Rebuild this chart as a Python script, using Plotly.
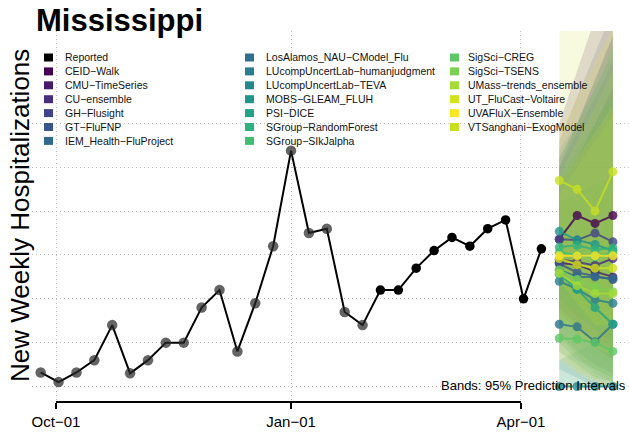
import plotly.graph_objects as go
import pandas as pd

# ---------------- data ----------------
reported_dates = pd.date_range("2022-09-25", periods=29, freq="7D")
reported_values = [16, 5, 16, 30, 70, 15, 30, 50, 50, 90, 110, 40, 95, 160, 269,
                   175, 180, 85, 70, 110, 110, 135, 155, 170, 160, 180, 190, 100, 157]
recent_cutoff = pd.Timestamp("2023-02-01")   # points after this are drawn solid

forecast_dates = pd.date_range("2023-04-16", periods=4, freq="7D")

models = ["CEID-Walk", "CMU-TimeSeries", "CU-ensemble", "GH-Flusight", "GT-FluFNP",
          "IEM_Health-FluProject", "LosAlamos_NAU-CModel_Flu", "LUcompUncertLab-humanjudgment",
          "LUcompUncertLab-TEVA", "MOBS-GLEAM_FLUH", "PSI-DICE", "SGroup-RandomForest",
          "SGroup-SIkJalpha", "SigSci-CREG", "SigSci-TSENS", "UMass-trends_ensemble",
          "UT_FluCast-Voltaire", "UVAFluX-Ensemble", "VTSanghani-ExogModel"]
model_colors = ["#440154", "#481A6C", "#472F7D", "#414487", "#39568C", "#31688E", "#2C728E",
                "#287D8E", "#23898E", "#1F968B", "#20A386", "#2DB27D", "#40BD72", "#5DC863",
                "#7AD151", "#A5DB36", "#D2E21B", "#FDE725", "#C8E020"]

forecast_median = {
    "CEID-Walk": [168, 195, 186, 195],
    "CMU-TimeSeries": [141, 139, 131, 125],
    "CU-ensemble": [145, 142, 138, 146],
    "GH-Flusight": [168, 167, 175, 165],
    "GT-FluFNP": [140, 130, 126, 122],
    "IEM_Health-FluProject": [133, 125, 125, 123],
    "LosAlamos_NAU-CModel_Flu": [71, 68, 51, 71],
    "LUcompUncertLab-humanjudgment": [120, 111, 99, 95],
    "LUcompUncertLab-TEVA": [0, 0, 0, 0],
    "MOBS-GLEAM_FLUH": [177, 167, 162, 155],
    "PSI-DICE": [128, 111, 90, 71],
    "SGroup-RandomForest": [159, 161, 156, 158],
    "SGroup-SIkJalpha": [153, 150, 148, 152],
    "SigSci-CREG": [55, 54, 50, 40],
    "SigSci-TSENS": [133, 122, 113, 108],
    "UMass-trends_ensemble": [129, 115, 106, 106],
    "UT_FluCast-Voltaire": [146, 139, 135, 135],
    "UVAFluX-Ensemble": [149, 149, 149, 149],
    "VTSanghani-ExogModel": [235, 225, 200, 245],
}
forecast_lower = {
    "CEID-Walk": [90, 70, 55, 45],
    "CMU-TimeSeries": [80, 60, 45, 30],
    "CU-ensemble": [85, 65, 50, 40],
    "GH-Flusight": [100, 80, 65, 50],
    "GT-FluFNP": [60, 40, 25, 15],
    "IEM_Health-FluProject": [50, 30, 20, 10],
    "LosAlamos_NAU-CModel_Flu": [20, 10, 0, 0],
    "LUcompUncertLab-humanjudgment": [40, 25, 10, 5],
    "LUcompUncertLab-TEVA": [0, 0, 0, 0],
    "MOBS-GLEAM_FLUH": [110, 85, 65, 50],
    "PSI-DICE": [60, 35, 15, 5],
    "SGroup-RandomForest": [100, 85, 70, 60],
    "SGroup-SIkJalpha": [70, 50, 35, 25],
    "SigSci-CREG": [0, 0, 0, 0],
    "SigSci-TSENS": [55, 35, 20, 10],
    "UMass-trends_ensemble": [40, 20, 10, 5],
    "UT_FluCast-Voltaire": [80, 60, 45, 35],
    "UVAFluX-Ensemble": [30, 15, 5, 0],
    "VTSanghani-ExogModel": [120, 95, 70, 70],
}
forecast_upper = {
    "CEID-Walk": [300, 360, 420, 470],
    "CMU-TimeSeries": [230, 260, 300, 340],
    "CU-ensemble": [260, 300, 350, 400],
    "GH-Flusight": [280, 330, 380, 430],
    "GT-FluFNP": [250, 290, 330, 370],
    "IEM_Health-FluProject": [250, 300, 350, 400],
    "LosAlamos_NAU-CModel_Flu": [140, 160, 160, 200],
    "LUcompUncertLab-humanjudgment": [230, 260, 300, 340],
    "LUcompUncertLab-TEVA": [30, 40, 50, 60],
    "MOBS-GLEAM_FLUH": [270, 300, 340, 380],
    "PSI-DICE": [210, 220, 230, 240],
    "SGroup-RandomForest": [240, 270, 300, 330],
    "SGroup-SIkJalpha": [260, 300, 340, 390],
    "SigSci-CREG": [130, 150, 160, 170],
    "SigSci-TSENS": [220, 250, 280, 310],
    "UMass-trends_ensemble": [240, 280, 320, 360],
    "UT_FluCast-Voltaire": [230, 260, 290, 320],
    "UVAFluX-Ensemble": [290, 330, 370, 410],
    "VTSanghani-ExogModel": [420, 450, 470, 520],
}

tick_dates = ["2022-10-01", "2023-01-01", "2023-04-01"]
tick_labels = ["Oct\u221201", "Jan\u221201", "Apr\u221201"]
grid_values = [0, 50, 100, 150, 200, 250, 300]

title_text = "Mississippi"
y_label = "New Weekly Hospitalizations"
band_note = "Bands: 95% Prediction Intervals"

# ---------------- helpers ----------------
W, H = 629, 433
ML, MR, MT, MB = 32, 0, 31, 31
PW, PH = W - ML - MR, H - MT - MB


def px_x(p):
    return (p - ML) / PW


def px_y(p):
    return (H - MB - p) / PH


def rgba(hexc, a):
    h = hexc.lstrip("#")
    return "rgba(%d,%d,%d,%.3f)" % (int(h[0:2], 16), int(h[2:4], 16), int(h[4:6], 16), a)


FONT = "Liberation Sans, Arial, Helvetica, sans-serif"

fig = go.Figure()

# prediction bands
fd = list(forecast_dates)
for m, c in zip(models, model_colors):
    fig.add_trace(go.Scatter(
        x=fd + fd[::-1],
        y=forecast_upper[m] + forecast_lower[m][::-1],
        fill="toself", fillcolor=rgba(c, 0.15), line=dict(width=0),
        mode="lines", hoverinfo="skip", showlegend=False))

# reported series
fig.add_trace(go.Scatter(x=reported_dates, y=reported_values, mode="lines",
                         line=dict(color="black", width=2), showlegend=False))
old_mask = [d < recent_cutoff for d in reported_dates]
fig.add_trace(go.Scatter(
    x=[d for d, o in zip(reported_dates, old_mask) if o],
    y=[v for v, o in zip(reported_values, old_mask) if o],
    mode="markers", marker=dict(color="rgba(40,40,40,0.72)", size=10.5, line=dict(width=0)),
    showlegend=False))
fig.add_trace(go.Scatter(
    x=[d for d, o in zip(reported_dates, old_mask) if not o],
    y=[v for v, o in zip(reported_values, old_mask) if not o],
    mode="markers", marker=dict(color="black", size=9.5, line=dict(width=0)),
    showlegend=False))

# forecast medians
for m, c in zip(models, model_colors):
    fig.add_trace(go.Scatter(
        x=fd, y=forecast_median[m], mode="lines+markers",
        line=dict(color=c, width=2), marker=dict(color=c, size=9),
        opacity=0.8, showlegend=False))

# x axis line between first and last tick (base-R style)
shapes = [dict(type="line", xref="x", yref="paper", x0=tick_dates[0], x1=tick_dates[-1],
               y0=0, y1=0, line=dict(color="black", width=2), layer="above")]

annotations = []
# legend (three columns)
entries = ["Reported"] + models
colors = ["#000000"] + model_colors
cols = [entries[0:7], entries[7:14], entries[14:]]
col_colors = [colors[0:7], colors[7:14], colors[14:]]
sq_x = [44, 245, 450]
tx_x = [63, 264, 466]
row_y0, row_dy = 57.5, 13.9
for ci, (names, cc) in enumerate(zip(cols, col_colors)):
    for ri, (nm, col) in enumerate(zip(names, cc)):
        yc = row_y0 + ri * row_dy
        shapes.append(dict(type="rect", xref="paper", yref="paper",
                           x0=px_x(sq_x[ci]), x1=px_x(sq_x[ci] + 9),
                           y0=px_y(yc + 4), y1=px_y(yc - 4),
                           fillcolor=col, line=dict(width=0), layer="above"))
        annotations.append(dict(xref="paper", yref="paper", x=px_x(tx_x[ci]), y=px_y(yc),
                                xanchor="left", yanchor="middle", showarrow=False,
                                text=nm.replace("-", "\u2212"),
                                font=dict(family=FONT, size=10.5, color="#111111")))

annotations.append(dict(xref="paper", yref="paper", x=px_x(34), y=px_y(21),
                        xanchor="left", yanchor="middle", showarrow=False,
                        text="<b>%s</b>" % title_text,
                        font=dict(family=FONT, size=31, color="black")))
annotations.append(dict(xref="paper", yref="paper", x=px_x(20), y=px_y(216),
                        xanchor="center", yanchor="middle", showarrow=False,
                        textangle=-90, text=y_label,
                        font=dict(family=FONT, size=26, color="black")))
annotations.append(dict(xref="paper", yref="paper", x=px_x(628), y=px_y(385),
                        xanchor="right", yanchor="middle", showarrow=False,
                        text=band_note, font=dict(family=FONT, size=13, color="black")))

x_left = pd.Timestamp("2022-10-01") - pd.Timedelta(days=9.4)
x_right = pd.Timestamp("2023-04-01") + pd.Timedelta(days=42.3)

fig.update_layout(
    width=W, height=H, margin=dict(l=ML, r=MR, t=MT, b=MB, pad=0),
    plot_bgcolor="white", paper_bgcolor="white", showlegend=False,
    font=dict(family=FONT, color="black"),
    shapes=shapes, annotations=annotations,
    xaxis=dict(type="date", range=[x_left, x_right], tickvals=tick_dates, ticktext=tick_labels,
               ticks="outside", ticklen=6, tickwidth=2, tickcolor="black",
               showline=False, zeroline=False, showgrid=True, gridcolor="#BDBDBD",
               griddash="1px,3px", gridwidth=1,
               tickfont=dict(family=FONT, size=15, color="black")),
    yaxis=dict(range=[-17.7, 405.5], tickvals=grid_values, showticklabels=False, ticks="",
               showline=False, zeroline=False, showgrid=True, gridcolor="#BDBDBD",
               griddash="1px,3px", gridwidth=1),
)

fig.write_html("out.html", config={"displayModeBar": False, "staticPlot": True},
               post_script="document.body.style.margin='0';document.body.style.overflow='hidden';")
